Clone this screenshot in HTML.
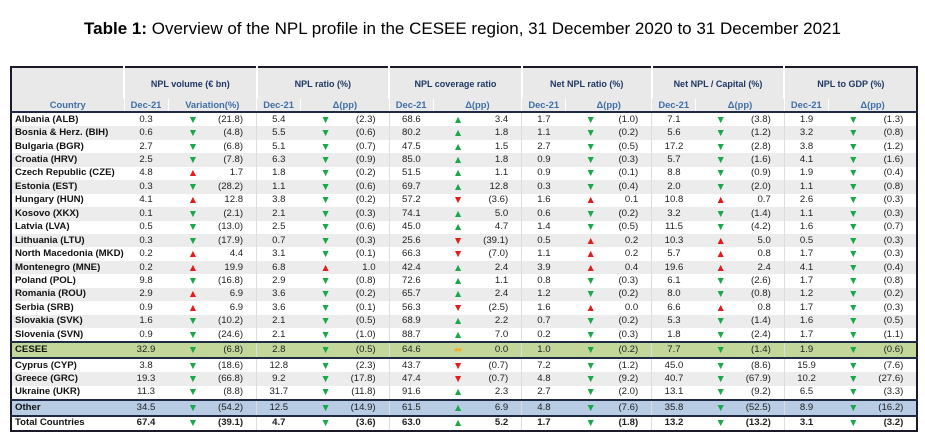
<!DOCTYPE html>
<html><head><meta charset="utf-8"><style>
body{margin:0;width:925px;height:445px;background:#fff;font-family:"Liberation Sans",sans-serif;position:relative;overflow:hidden}
.title{position:absolute;top:19px;left:0;width:925px;text-align:center;font-size:17px;color:#000}
table{position:absolute;left:10px;top:66px;border-collapse:collapse;border:2px solid #1a1a2a;table-layout:fixed;font-size:9.6px;color:#222}
td{padding:0;height:13.45px;line-height:12px;white-space:nowrap;overflow:hidden}
.h1 td{height:31px;background:#e9e9e9;color:#1f3864;font-weight:bold;font-size:9px;text-align:center;border-left:2px solid #fff}
.h2 td{height:12px;background:#e9e9e9;color:#3f6fa8;font-weight:bold;font-size:9.4px;text-align:center;border-bottom:2px solid #1f2a44;border-left:1px solid #fff}
.h1 td:first-child,.h2 td:first-child{border-left:none}
td.n{font-weight:bold;padding-left:3px;color:#111}
td.c{text-align:center}
td.a{text-align:center;font-size:10.5px}
td.v{text-align:right;padding-right:13px;border-right:1px solid #ddd}
tr.g td{background:#ececec}
.gu{color:#1aa84a}.gd{color:#1aa84a}.ru{color:#e31b1b}.rd{color:#e31b1b}.am{color:#f0b030}
tr.ce td{background:#c4d79b;border-top:2px solid #1f2a44;border-bottom:2px solid #1f2a44}
tr.ot td{background:#b8cce4;border-top:2px solid #1f2a44;border-bottom:2px solid #1f2a44}
tr.tt td{font-weight:bold}
</style></head><body>
<div class="title"><b>Table 1:</b> Overview of the NPL profile in the CESEE region, 31 December 2020 to 31 December 2021</div>
<table>
<colgroup><col style="width:113px"><col style="width:44px"><col style="width:50px"><col style="width:36px"><col style="width:44px"><col style="width:50px"><col style="width:36px"><col style="width:44px"><col style="width:50px"><col style="width:36px"><col style="width:44px"><col style="width:50px"><col style="width:36px"><col style="width:44px"><col style="width:50px"><col style="width:36px"><col style="width:44px"><col style="width:50px"><col style="width:36px"></colgroup>
<tr class="h1"><td></td><td colspan="3">NPL volume (€ bn)</td><td colspan="3">NPL ratio (%)</td><td colspan="3">NPL coverage ratio</td><td colspan="3">Net NPL ratio (%)</td><td colspan="3">Net NPL / Capital (%)</td><td colspan="3">NPL to GDP (%)</td></tr>
<tr class="h2"><td>Country</td><td>Dec-21</td><td colspan="2">Variation(%)</td><td>Dec-21</td><td colspan="2">Δ(pp)</td><td>Dec-21</td><td colspan="2">Δ(pp)</td><td>Dec-21</td><td colspan="2">Δ(pp)</td><td>Dec-21</td><td colspan="2">Δ(pp)</td><td>Dec-21</td><td colspan="2">Δ(pp)</td></tr>
<tbody>
<tr><td class="n">Albania (ALB)</td><td class="c">0.3</td><td class="a gd">▼</td><td class="v">(21.8)</td><td class="c">5.4</td><td class="a gd">▼</td><td class="v">(2.3)</td><td class="c">68.6</td><td class="a gu">▲</td><td class="v">3.4</td><td class="c">1.7</td><td class="a gd">▼</td><td class="v">(1.0)</td><td class="c">7.1</td><td class="a gd">▼</td><td class="v">(3.8)</td><td class="c">1.9</td><td class="a gd">▼</td><td class="v">(1.3)</td></tr>
<tr class="g"><td class="n">Bosnia &amp; Herz. (BIH)</td><td class="c">0.6</td><td class="a gd">▼</td><td class="v">(4.8)</td><td class="c">5.5</td><td class="a gd">▼</td><td class="v">(0.6)</td><td class="c">80.2</td><td class="a gu">▲</td><td class="v">1.8</td><td class="c">1.1</td><td class="a gd">▼</td><td class="v">(0.2)</td><td class="c">5.6</td><td class="a gd">▼</td><td class="v">(1.2)</td><td class="c">3.2</td><td class="a gd">▼</td><td class="v">(0.8)</td></tr>
<tr><td class="n">Bulgaria (BGR)</td><td class="c">2.7</td><td class="a gd">▼</td><td class="v">(6.8)</td><td class="c">5.1</td><td class="a gd">▼</td><td class="v">(0.7)</td><td class="c">47.5</td><td class="a gu">▲</td><td class="v">1.5</td><td class="c">2.7</td><td class="a gd">▼</td><td class="v">(0.5)</td><td class="c">17.2</td><td class="a gd">▼</td><td class="v">(2.8)</td><td class="c">3.8</td><td class="a gd">▼</td><td class="v">(1.2)</td></tr>
<tr class="g"><td class="n">Croatia (HRV)</td><td class="c">2.5</td><td class="a gd">▼</td><td class="v">(7.8)</td><td class="c">6.3</td><td class="a gd">▼</td><td class="v">(0.9)</td><td class="c">85.0</td><td class="a gu">▲</td><td class="v">1.8</td><td class="c">0.9</td><td class="a gd">▼</td><td class="v">(0.3)</td><td class="c">5.7</td><td class="a gd">▼</td><td class="v">(1.6)</td><td class="c">4.1</td><td class="a gd">▼</td><td class="v">(1.6)</td></tr>
<tr><td class="n">Czech Republic (CZE)</td><td class="c">4.8</td><td class="a ru">▲</td><td class="v">1.7</td><td class="c">1.8</td><td class="a gd">▼</td><td class="v">(0.2)</td><td class="c">51.5</td><td class="a gu">▲</td><td class="v">1.1</td><td class="c">0.9</td><td class="a gd">▼</td><td class="v">(0.1)</td><td class="c">8.8</td><td class="a gd">▼</td><td class="v">(0.9)</td><td class="c">1.9</td><td class="a gd">▼</td><td class="v">(0.4)</td></tr>
<tr class="g"><td class="n">Estonia (EST)</td><td class="c">0.3</td><td class="a gd">▼</td><td class="v">(28.2)</td><td class="c">1.1</td><td class="a gd">▼</td><td class="v">(0.6)</td><td class="c">69.7</td><td class="a gu">▲</td><td class="v">12.8</td><td class="c">0.3</td><td class="a gd">▼</td><td class="v">(0.4)</td><td class="c">2.0</td><td class="a gd">▼</td><td class="v">(2.0)</td><td class="c">1.1</td><td class="a gd">▼</td><td class="v">(0.8)</td></tr>
<tr><td class="n">Hungary (HUN)</td><td class="c">4.1</td><td class="a ru">▲</td><td class="v">12.8</td><td class="c">3.8</td><td class="a gd">▼</td><td class="v">(0.2)</td><td class="c">57.2</td><td class="a rd">▼</td><td class="v">(3.6)</td><td class="c">1.6</td><td class="a ru">▲</td><td class="v">0.1</td><td class="c">10.8</td><td class="a ru">▲</td><td class="v">0.7</td><td class="c">2.6</td><td class="a gd">▼</td><td class="v">(0.3)</td></tr>
<tr class="g"><td class="n">Kosovo (XKX)</td><td class="c">0.1</td><td class="a gd">▼</td><td class="v">(2.1)</td><td class="c">2.1</td><td class="a gd">▼</td><td class="v">(0.3)</td><td class="c">74.1</td><td class="a gu">▲</td><td class="v">5.0</td><td class="c">0.6</td><td class="a gd">▼</td><td class="v">(0.2)</td><td class="c">3.2</td><td class="a gd">▼</td><td class="v">(1.4)</td><td class="c">1.1</td><td class="a gd">▼</td><td class="v">(0.3)</td></tr>
<tr><td class="n">Latvia (LVA)</td><td class="c">0.5</td><td class="a gd">▼</td><td class="v">(13.0)</td><td class="c">2.5</td><td class="a gd">▼</td><td class="v">(0.6)</td><td class="c">45.0</td><td class="a gu">▲</td><td class="v">4.7</td><td class="c">1.4</td><td class="a gd">▼</td><td class="v">(0.5)</td><td class="c">11.5</td><td class="a gd">▼</td><td class="v">(4.2)</td><td class="c">1.6</td><td class="a gd">▼</td><td class="v">(0.7)</td></tr>
<tr class="g"><td class="n">Lithuania (LTU)</td><td class="c">0.3</td><td class="a gd">▼</td><td class="v">(17.9)</td><td class="c">0.7</td><td class="a gd">▼</td><td class="v">(0.3)</td><td class="c">25.6</td><td class="a rd">▼</td><td class="v">(39.1)</td><td class="c">0.5</td><td class="a ru">▲</td><td class="v">0.2</td><td class="c">10.3</td><td class="a ru">▲</td><td class="v">5.0</td><td class="c">0.5</td><td class="a gd">▼</td><td class="v">(0.3)</td></tr>
<tr><td class="n">North Macedonia (MKD)</td><td class="c">0.2</td><td class="a ru">▲</td><td class="v">4.4</td><td class="c">3.1</td><td class="a gd">▼</td><td class="v">(0.1)</td><td class="c">66.3</td><td class="a rd">▼</td><td class="v">(7.0)</td><td class="c">1.1</td><td class="a ru">▲</td><td class="v">0.2</td><td class="c">5.7</td><td class="a ru">▲</td><td class="v">0.8</td><td class="c">1.7</td><td class="a gd">▼</td><td class="v">(0.3)</td></tr>
<tr class="g"><td class="n">Montenegro (MNE)</td><td class="c">0.2</td><td class="a ru">▲</td><td class="v">19.9</td><td class="c">6.8</td><td class="a ru">▲</td><td class="v">1.0</td><td class="c">42.4</td><td class="a gu">▲</td><td class="v">2.4</td><td class="c">3.9</td><td class="a ru">▲</td><td class="v">0.4</td><td class="c">19.6</td><td class="a ru">▲</td><td class="v">2.4</td><td class="c">4.1</td><td class="a gd">▼</td><td class="v">(0.4)</td></tr>
<tr><td class="n">Poland (POL)</td><td class="c">9.8</td><td class="a gd">▼</td><td class="v">(16.8)</td><td class="c">2.9</td><td class="a gd">▼</td><td class="v">(0.8)</td><td class="c">72.6</td><td class="a gu">▲</td><td class="v">1.1</td><td class="c">0.8</td><td class="a gd">▼</td><td class="v">(0.3)</td><td class="c">6.1</td><td class="a gd">▼</td><td class="v">(2.6)</td><td class="c">1.7</td><td class="a gd">▼</td><td class="v">(0.8)</td></tr>
<tr class="g"><td class="n">Romania (ROU)</td><td class="c">2.9</td><td class="a ru">▲</td><td class="v">6.9</td><td class="c">3.6</td><td class="a gd">▼</td><td class="v">(0.2)</td><td class="c">65.7</td><td class="a gu">▲</td><td class="v">2.4</td><td class="c">1.2</td><td class="a gd">▼</td><td class="v">(0.2)</td><td class="c">8.0</td><td class="a gd">▼</td><td class="v">(0.8)</td><td class="c">1.2</td><td class="a gd">▼</td><td class="v">(0.2)</td></tr>
<tr><td class="n">Serbia (SRB)</td><td class="c">0.9</td><td class="a ru">▲</td><td class="v">6.9</td><td class="c">3.6</td><td class="a gd">▼</td><td class="v">(0.1)</td><td class="c">56.3</td><td class="a rd">▼</td><td class="v">(2.5)</td><td class="c">1.6</td><td class="a ru">▲</td><td class="v">0.0</td><td class="c">6.6</td><td class="a ru">▲</td><td class="v">0.8</td><td class="c">1.7</td><td class="a gd">▼</td><td class="v">(0.3)</td></tr>
<tr class="g"><td class="n">Slovakia (SVK)</td><td class="c">1.6</td><td class="a gd">▼</td><td class="v">(10.2)</td><td class="c">2.1</td><td class="a gd">▼</td><td class="v">(0.5)</td><td class="c">68.9</td><td class="a gu">▲</td><td class="v">2.2</td><td class="c">0.7</td><td class="a gd">▼</td><td class="v">(0.2)</td><td class="c">5.3</td><td class="a gd">▼</td><td class="v">(1.4)</td><td class="c">1.6</td><td class="a gd">▼</td><td class="v">(0.5)</td></tr>
<tr><td class="n">Slovenia (SVN)</td><td class="c">0.9</td><td class="a gd">▼</td><td class="v">(24.6)</td><td class="c">2.1</td><td class="a gd">▼</td><td class="v">(1.0)</td><td class="c">88.7</td><td class="a gu">▲</td><td class="v">7.0</td><td class="c">0.2</td><td class="a gd">▼</td><td class="v">(0.3)</td><td class="c">1.8</td><td class="a gd">▼</td><td class="v">(2.4)</td><td class="c">1.7</td><td class="a gd">▼</td><td class="v">(1.1)</td></tr>
<tr class="ce"><td class="n">CESEE</td><td class="c">32.9</td><td class="a gd">▼</td><td class="v">(6.8)</td><td class="c">2.8</td><td class="a gd">▼</td><td class="v">(0.5)</td><td class="c">64.6</td><td class="a am">⬌</td><td class="v">0.0</td><td class="c">1.0</td><td class="a gd">▼</td><td class="v">(0.2)</td><td class="c">7.7</td><td class="a gd">▼</td><td class="v">(1.4)</td><td class="c">1.9</td><td class="a gd">▼</td><td class="v">(0.6)</td></tr>
<tr><td class="n">Cyprus (CYP)</td><td class="c">3.8</td><td class="a gd">▼</td><td class="v">(18.6)</td><td class="c">12.8</td><td class="a gd">▼</td><td class="v">(2.3)</td><td class="c">43.7</td><td class="a rd">▼</td><td class="v">(0.7)</td><td class="c">7.2</td><td class="a gd">▼</td><td class="v">(1.2)</td><td class="c">45.0</td><td class="a gd">▼</td><td class="v">(8.6)</td><td class="c">15.9</td><td class="a gd">▼</td><td class="v">(7.6)</td></tr>
<tr class="g"><td class="n">Greece (GRC)</td><td class="c">19.3</td><td class="a gd">▼</td><td class="v">(66.8)</td><td class="c">9.2</td><td class="a gd">▼</td><td class="v">(17.8)</td><td class="c">47.4</td><td class="a rd">▼</td><td class="v">(0.7)</td><td class="c">4.8</td><td class="a gd">▼</td><td class="v">(9.2)</td><td class="c">40.7</td><td class="a gd">▼</td><td class="v">(67.9)</td><td class="c">10.2</td><td class="a gd">▼</td><td class="v">(27.6)</td></tr>
<tr><td class="n">Ukraine (UKR)</td><td class="c">11.3</td><td class="a gd">▼</td><td class="v">(8.8)</td><td class="c">31.7</td><td class="a gd">▼</td><td class="v">(11.8)</td><td class="c">91.6</td><td class="a gu">▲</td><td class="v">2.3</td><td class="c">2.7</td><td class="a gd">▼</td><td class="v">(2.0)</td><td class="c">13.1</td><td class="a gd">▼</td><td class="v">(9.2)</td><td class="c">6.5</td><td class="a gd">▼</td><td class="v">(3.3)</td></tr>
<tr class="ot"><td class="n">Other</td><td class="c">34.5</td><td class="a gd">▼</td><td class="v">(54.2)</td><td class="c">12.5</td><td class="a gd">▼</td><td class="v">(14.9)</td><td class="c">61.5</td><td class="a gu">▲</td><td class="v">6.9</td><td class="c">4.8</td><td class="a gd">▼</td><td class="v">(7.6)</td><td class="c">35.8</td><td class="a gd">▼</td><td class="v">(52.5)</td><td class="c">8.9</td><td class="a gd">▼</td><td class="v">(16.2)</td></tr>
<tr class="tt"><td class="n">Total Countries</td><td class="c">67.4</td><td class="a gd">▼</td><td class="v">(39.1)</td><td class="c">4.7</td><td class="a gd">▼</td><td class="v">(3.6)</td><td class="c">63.0</td><td class="a gu">▲</td><td class="v">5.2</td><td class="c">1.7</td><td class="a gd">▼</td><td class="v">(1.8)</td><td class="c">13.2</td><td class="a gd">▼</td><td class="v">(13.2)</td><td class="c">3.1</td><td class="a gd">▼</td><td class="v">(3.2)</td></tr>
</tbody></table>
</body></html>
